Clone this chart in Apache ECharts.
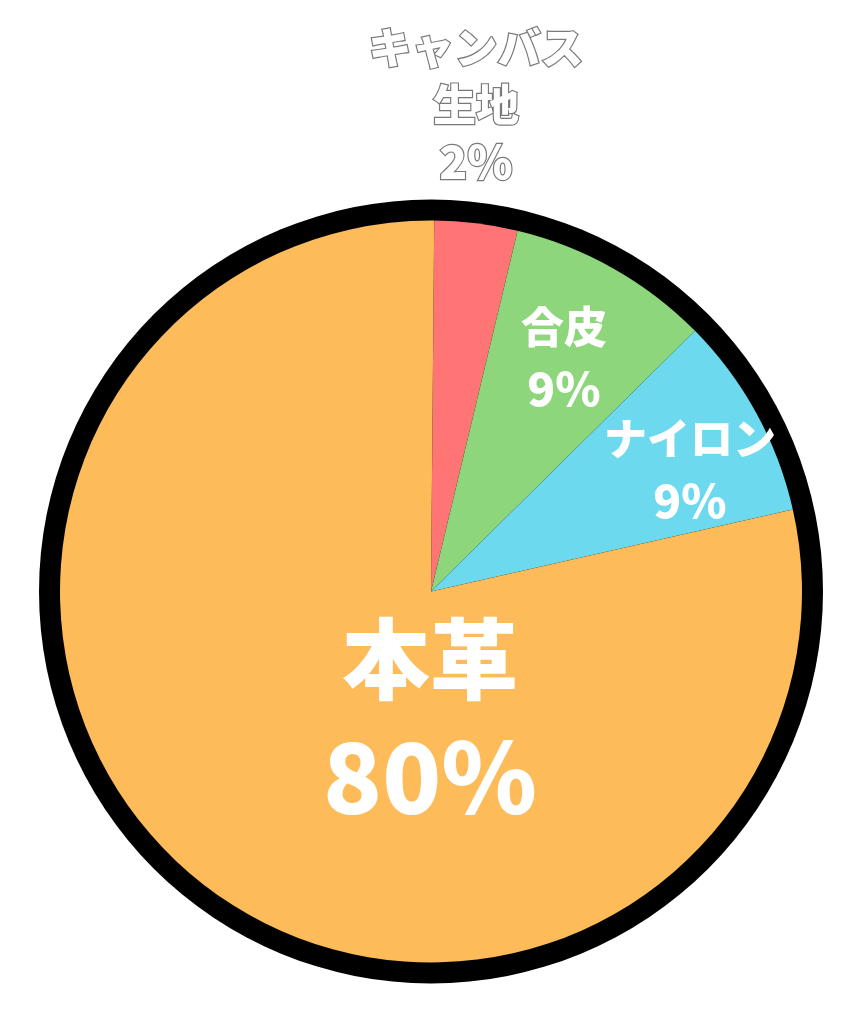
<!DOCTYPE html>
<html>
<head>
<meta charset="utf-8">
<script src="https://cdn.jsdelivr.net/npm/echarts@6/dist/echarts.min.js"></script>
<style>
html,body{margin:0;padding:0;background:#fff;}
#chart{width:856px;height:1024px;}
</style>
</head>
<body>
<div id="chart"></div>
<script>
// Data
var categories = ['キャンバス\n生地', '合皮', 'ナイロン', '本革'];
var values = [2, 9, 9, 80];
var colors = ['#FF7575', '#8DD67C', '#6DD9EE', '#FDBB5A'];

// Label layout (positions / styles, not data)
var labelPos = [[476, 105], [564, 358], [690, 470], [430, 718]];
var labelStyles = ['out', 'mid', 'mid', 'big'];

var FONT = '"Noto Sans CJK JP", "Noto Sans CJK SC", sans-serif';

var chart = echarts.init(document.getElementById('chart'));

var data = categories.map(function (c, i) {
  return { name: c, value: values[i], itemStyle: { color: colors[i] } };
});

function fmt(p) {
  var st = labelStyles[p.dataIndex];
  var lines = p.name.split('\n').map(function (s) { return '{' + st + 'N|' + s + '}'; });
  lines.push('{' + st + 'V|' + p.value + '%}');
  return lines.join('\n');
}

var rich = {
  outN: { fontSize: 43, fontWeight: 900, lineHeight: 57, color: '#fff', textBorderColor: '#7a7a7a', textBorderWidth: 2.4, fontFamily: FONT },
  outV: { fontSize: 46, fontWeight: 900, lineHeight: 57, color: '#fff', textBorderColor: '#7a7a7a', textBorderWidth: 2.4, fontFamily: FONT },
  midN: { fontSize: 43, fontWeight: 900, lineHeight: 62, color: '#fff', fontFamily: FONT },
  midV: { fontSize: 46, fontWeight: 900, lineHeight: 62, color: '#fff', fontFamily: FONT },
  bigN: { fontSize: 88, fontWeight: 900, lineHeight: 119, color: '#fff', fontFamily: FONT },
  bigV: { fontSize: 97, fontWeight: 900, lineHeight: 119, color: '#fff', fontFamily: FONT }
};

chart.setOption({
  backgroundColor: '#ffffff',
  animation: false,
  series: [
    {
      type: 'pie',
      silent: true,
      center: [431, 591.5],
      radius: [0, 392],
      label: { show: false },
      labelLine: { show: false },
      itemStyle: { color: '#000' },
      data: [{ name: 'ring', value: 1 }],
      z: 1
    },
    {
      type: 'pie',
      center: [431, 591.5],
      radius: [0, 371],
      startAngle: 89.5,
      clockwise: true,
      minAngle: 13,
      avoidLabelOverlap: false,
      itemStyle: { borderWidth: 0.4, borderColor: 'rgba(0,0,0,0.06)' },
      label: {
        show: true,
        position: 'inside',
        formatter: fmt,
        rich: rich,
        align: 'center',
        verticalAlign: 'middle'
      },
      labelLine: { show: false },
      labelLayout: function (params) {
        var p = labelPos[params.dataIndex];
        return { x: p[0], y: p[1], align: 'center', verticalAlign: 'middle' };
      },
      data: data,
      z: 2
    }
  ]
});
</script>
</body>
</html>
